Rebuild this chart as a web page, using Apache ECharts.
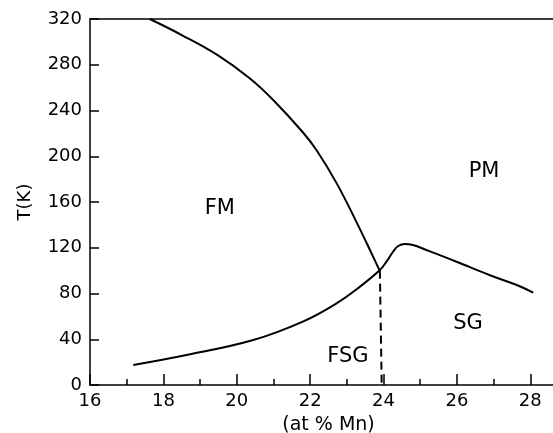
<!DOCTYPE html>
<html>
    <head>
        <meta charset="utf-8">
        <script src="https://cdn.jsdelivr.net/npm/echarts@6/dist/echarts.min.js"></script>
        <style>
            html, body { margin: 0; padding: 0; background: #fff; }
            #main { width: 553px; height: 433px; }
        </style>
    </head>
    <body>
        <div id="main"></div>
        <script>
        // FM / PM boundary (Curie line)
        var fmX = [17.63, 18.5, 19.5, 20.36, 21.0, 21.8, 22.18, 22.72, 23.27, 23.63, 23.9];
        var fmY = [320, 306, 288, 268, 249, 221, 205, 176.5, 142, 118, 99.5];
        // spin glass / FSG boundary
        var sgX = [17.18, 18.63, 20.45, 21.8, 22.73, 23.36, 23.9, 24.08, 24.26, 24.4, 24.58, 24.8, 25.17, 25.99, 26.9, 27.63, 28.08];
        var sgY = [17.5, 26.2, 39.3, 55.4, 71.6, 86, 100.5, 107.8, 116.5, 121.5, 123.3, 122.4, 118, 107.8, 96, 87.4, 80.7];
        // dashed FM / FSG divide
        var dashX = [23.9, 23.95];
        var dashY = [100, 0];
        // region names
        var regions = ['FM', 'PM', 'SG', 'FSG'];
        var regionX = [19.54, 26.74, 26.3, 23.03];
        var regionY = [154.7, 187, 54, 24.5];

        var font = 'DejaVu Sans';
        var ink = '#000';

        function pairs(xs, ys) {
            return xs.map(function (x, i) { return [x, ys[i]]; });
        }

        var chart = echarts.init(document.getElementById('main'));
        var option = {
            animation: false,
            backgroundColor: '#fff',
            grid: { left: 90, top: 19, right: -14, bottom: 48, outerBoundsMode: 'none', containLabel: false },
            xAxis: [
                {
                    type: 'value', min: 16, max: 29, interval: 2,
                    name: '(at % Mn)', nameLocation: 'middle', nameGap: 31,
                    nameTextStyle: { fontFamily: font, fontSize: 19, color: ink },
                    axisLine: { lineStyle: { color: ink, width: 1.5 } },
                    axisTick: { inside: true, length: 11, lineStyle: { color: ink, width: 1.5 } },
                    axisLabel: {
                        fontFamily: font, fontSize: 18, color: ink, margin: 7, showMaxLabel: false,
                        formatter: function (v) { return v % 2 === 0 ? String(v) : ''; }
                    },
                    splitLine: { show: false }
                },
                {
                    type: 'value', min: 16, max: 29, interval: 1, position: 'bottom',
                    axisLine: { show: false },
                    axisTick: { inside: true, length: 6, lineStyle: { color: ink, width: 1.5 } },
                    axisLabel: { show: false },
                    splitLine: { show: false }
                },
                {
                    type: 'value', min: 16, max: 29, position: 'top',
                    axisLine: { lineStyle: { color: ink, width: 1.5 } },
                    axisTick: { show: false },
                    axisLabel: { show: false },
                    splitLine: { show: false }
                }
            ],
            yAxis: {
                type: 'value', min: 0, max: 320, interval: 40,
                name: 'T(K)', nameLocation: 'middle', nameGap: 56,
                nameTextStyle: { fontFamily: font, fontSize: 18, color: ink },
                axisLine: { show: true, lineStyle: { color: ink, width: 1.5 } },
                axisTick: { show: true, inside: true, length: 9, lineStyle: { color: ink, width: 1.5 } },
                axisLabel: { fontFamily: font, fontSize: 18, color: ink, margin: 8 },
                splitLine: { show: false }
            },
            series: [
                {
                    type: 'line', data: pairs(fmX, fmY), smooth: 0.4, symbol: 'none',
                    lineStyle: { color: ink, width: 2 }
                },
                {
                    type: 'line', data: pairs(sgX, sgY), smooth: 0.4, symbol: 'none',
                    lineStyle: { color: ink, width: 2 }
                },
                {
                    type: 'line', data: pairs(dashX, dashY), symbol: 'none',
                    lineStyle: { color: ink, width: 2, type: [8, 5] }
                },
                {
                    type: 'scatter', symbolSize: 0, silent: true,
                    itemStyle: { opacity: 1 },
                    data: regions.map(function (n, i) { return { name: n, value: [regionX[i], regionY[i]] }; }),
                    label: {
                        show: true, position: 'inside', formatter: '{b}', opacity: 1,
                        fontFamily: font, fontSize: 21, color: ink
                    }
                }
            ]
        };
        chart.setOption(option);
        </script>
    </body>
</html>
